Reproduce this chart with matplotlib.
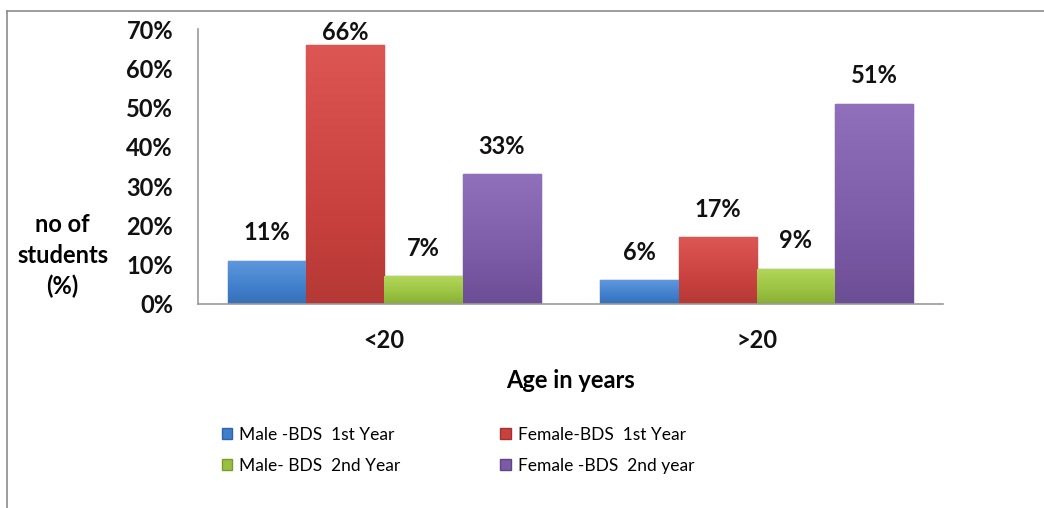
import numpy as np
import matplotlib.pyplot as plt
from matplotlib.lines import Line2D
from matplotlib.patches import Patch
from matplotlib.colors import LinearSegmentedColormap

plt.rcParams['font.family'] = ['Lato', 'DejaVu Sans']

# data
# ---------------------------------------------------------------------------------------
age_groups = ['<20', '>20']
series_names = ['Male -BDS  1st Year', 'Female-BDS  1st Year',
                'Male- BDS  2nd Year', 'Female -BDS  2nd year']
male_1st = [0.11, 0.06]
female_1st = [0.66, 0.17]
male_2nd = [0.07, 0.09]
female_2nd = [0.33, 0.51]
y_ticks = [0.0, 0.1, 0.2, 0.3, 0.4, 0.5, 0.6, 0.7]

series = [male_1st, female_1st, male_2nd, female_2nd]
light = ['#5f97dc', '#dc5653', '#b2d65a', '#9070bb']
colors = ['#3f7ecb', '#c9413e', '#99c140', '#7b5aa6']
dark = ['#2f64a6', '#a3322f', '#7a9c2e', '#5f4486']

BOLD = 17

# figure
# ---------------------------------------------------------------------------------------
fig = plt.figure(figsize=(10.44, 5.08), dpi=100)
ax = fig.add_axes([0.1897, 0.4016, 0.7136, 0.5413])

x = np.arange(len(age_groups))
w = 0.21
grad = np.linspace(0, 1, 64).reshape(-1, 1)
for i, vals in enumerate(series):
    pos = x + (i - 1.5) * w
    bars = ax.bar(pos, vals, width=w, color=colors[i], edgecolor=dark[i],
                  linewidth=1.0, zorder=2)
    cmap = LinearSegmentedColormap.from_list('g%d' % i, [dark[i], colors[i], light[i]])
    for b in bars:
        bx, by = b.get_x(), b.get_y()
        im = ax.imshow(grad, cmap=cmap, aspect='auto', origin='lower',
                       extent=[bx, bx + b.get_width(), by, by + b.get_height()],
                       zorder=2.5, vmin=-0.3, vmax=1.0)
        im.set_clip_path(b)
    for px, v in zip(pos, vals):
        ax.text(px, min(v + 0.071, 0.69), '%d%%' % round(v * 100),
                ha='center', va='center', fontsize=BOLD, fontweight='bold',
                color='#111111')

ax.set_xlim(-0.5, 1.5)
ax.set_ylim(0, 0.70)
ax.set_yticks(y_ticks)
ax.set_yticklabels(['%d%%' % round(t * 100) for t in y_ticks],
                   fontsize=BOLD, fontweight='bold')
ax.set_xticks(x)
ax.set_xticklabels(age_groups, fontsize=BOLD, fontweight='bold')
ax.tick_params(axis='both', length=0, colors='#111111')
ax.tick_params(axis='x', pad=18)
ax.tick_params(axis='y', pad=18)

for s in ['top', 'right']:
    ax.spines[s].set_visible(False)
for s in ['left', 'bottom']:
    ax.spines[s].set_color('#9a9a9a')
    ax.spines[s].set_linewidth(1.2)
    ax.spines[s].set_zorder(3)

ax.set_xlabel('Age in years', fontsize=BOLD, fontweight='bold', labelpad=12)
fig.text(0.060, 0.497, 'no of\nstudents\n(%)', ha='center', va='center',
         fontsize=BOLD, fontweight='bold', linespacing=1.38)

# legend, row order: 1st year pair, then 2nd year pair
order = [0, 2, 1, 3]
handles = [Patch(facecolor=colors[i], edgecolor=dark[i]) for i in order]
labels = [series_names[i] for i in order]
fig.legend(handles, labels, ncol=2, loc='upper left',
           bbox_to_anchor=(0.206, 0.174), frameon=False, fontsize=12.5,
           handlelength=0.6, handleheight=0.6, handletextpad=0.4,
           columnspacing=5.75, labelspacing=0.88, borderaxespad=0)

# outer frame
fig.add_artist(Line2D([0.007, 1.0], [0.978, 0.978], color='#8c8c8c', lw=1.2))
fig.add_artist(Line2D([0.007, 0.007], [0.0, 0.978], color='#8c8c8c', lw=1.2))

fig.savefig('out.png', dpi=100)
